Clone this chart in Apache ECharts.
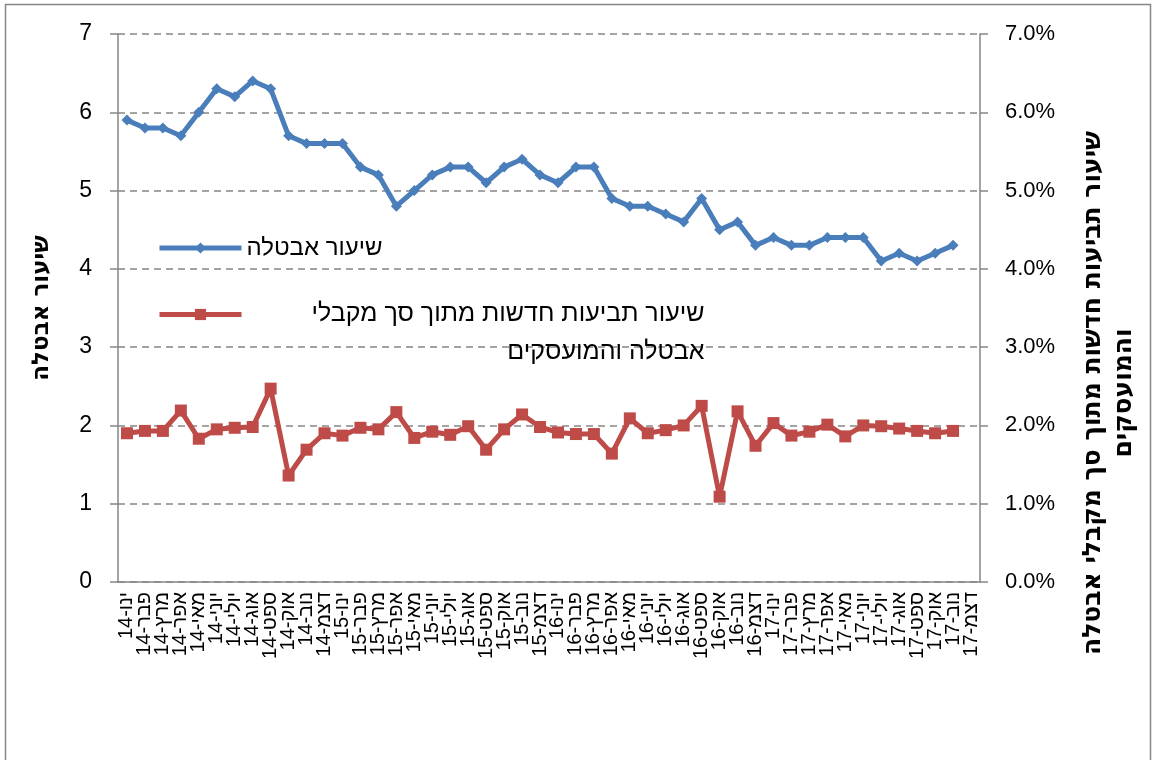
<!DOCTYPE html>
<html>
<head>
<meta charset="utf-8">
<script src="https://cdn.jsdelivr.net/npm/echarts@6/dist/echarts.min.js"></script>
<style>
  html, body { margin: 0; padding: 0; background: #fff; }
  #chart { width: 1157px; height: 760px; }
</style>
</head>
<body>
<div id="chart"></div>
<script>
const months = ['ינו', 'פבר', 'מרץ', 'אפר', 'מאי', 'יוני', 'יולי', 'אוג', 'ספט', 'אוק', 'נוב', 'דצמ']
const years = ['14', '15', '16', '17']

// categories: Jan-14 .. Dec-17
const categories = []
years.forEach(y => months.forEach(m => categories.push(m + '-' + y)))

// unemployment rate (left axis)
const unemployment = [
  5.9, 5.8, 5.8, 5.7, 6.0, 6.3, 6.2, 6.4, 6.3, 5.7, 5.6, 5.6,
  5.6, 5.3, 5.2, 4.8, 5.0, 5.2, 5.3, 5.3, 5.1, 5.3, 5.4, 5.2,
  5.1, 5.3, 5.3, 4.9, 4.8, 4.8, 4.7, 4.6, 4.9, 4.5, 4.6, 4.3,
  4.4, 4.3, 4.3, 4.4, 4.4, 4.4, 4.1, 4.2, 4.1, 4.2, 4.3, null
]

// new claims rate, percent (right axis)
const claims = [
  1.90, 1.93, 1.93, 2.19, 1.83, 1.95, 1.97, 1.98, 2.47, 1.36, 1.69, 1.90,
  1.87, 1.97, 1.95, 2.17, 1.84, 1.92, 1.88, 1.99, 1.69, 1.95, 2.14, 1.98,
  1.91, 1.89, 1.89, 1.64, 2.09, 1.90, 1.94, 2.00, 2.25, 1.09, 2.18, 1.74,
  2.03, 1.87, 1.92, 2.01, 1.86, 2.00, 1.99, 1.96, 1.93, 1.90, 1.93, null
]

const nameUnemp = 'שיעור אבטלה'
const nameClaims = 'שיעור תביעות חדשות מתוך סך מקבלי אבטלה והמועסקים'
const rightTitle = 'שיעור תביעות חדשות מתוך סך מקבלי אבטלה\nוהמועסקים'

const font = '"Liberation Sans", "DejaVu Sans", sans-serif'
const boldFont = '"DejaVu Sans", "Liberation Sans", sans-serif'
const gray = '#868686'
const blue = '#4A7EBB'
const red = '#BE4B48'

let myChart = echarts.init(document.getElementById('chart'))

myChart.setOption({
  animation: false,
  textStyle: { fontFamily: font },
  grid: { left: 118, right: 177, top: 34, bottom: 178, outerBoundsMode: 'none' },
  graphic: [{
    type: 'rect',
    shape: { x: 5.5, y: 4.5, width: 1145, height: 820 },
    style: { fill: null, stroke: gray, lineWidth: 1.5 },
    silent: true
  }],
  legend: [{
    data: [nameUnemp],
    left: 152,
    top: 231,
    itemWidth: 82,
    itemHeight: 14,
    itemGap: 10,
    lineStyle: { width: 5 },
    textStyle: { fontSize: 24, color: '#000' }
  }, {
    data: [nameClaims],
    left: 152,
    top: 297,
    itemWidth: 82,
    itemHeight: 14,
    lineStyle: { width: 5 },
    formatter: () => '{a|שיעור תביעות חדשות מתוך סך מקבלי}\n{a|אבטלה והמועסקים}',
    textStyle: {
      fontSize: 25, color: '#000',
      padding: [38, 0, 0, 0],
      rich: { a: { fontSize: 25, width: 458, align: 'right', lineHeight: 38 } }
    }
  }],
  xAxis: {
    type: 'category',
    data: categories,
    boundaryGap: true,
    axisLine: { lineStyle: { color: gray, width: 1.5 } },
    axisTick: { length: 7, interval: 0, lineStyle: { color: gray, width: 1.5 } },
    axisLabel: { interval: 0, rotate: 90, fontSize: 20, color: '#000', margin: 10 }
  },
  yAxis: [{
    type: 'value',
    min: 0, max: 7, interval: 1,
    name: nameUnemp,
    nameLocation: 'middle',
    nameGap: 64,
    nameRotate: 90,
    nameTextStyle: { fontSize: 23, fontWeight: 'bold', color: '#000', fontFamily: boldFont },
    axisLine: { show: true, lineStyle: { color: gray, width: 1.5 } },
    axisTick: { show: true, length: 8, lineStyle: { color: gray, width: 1.5 } },
    axisLabel: { fontSize: 23, color: '#000', margin: 26 },
    splitLine: { lineStyle: { color: gray, type: [7, 5], width: 1.5 } }
  }, {
    type: 'value',
    min: 0, max: 7, interval: 1,
    position: 'right',
    name: rightTitle,
    nameLocation: 'middle',
    nameGap: 98,
    nameRotate: 90,
    nameTextStyle: { fontSize: 25, fontWeight: 'bold', color: '#000', lineHeight: 31, padding: [0, 170, 0, 0], fontFamily: boldFont },
    axisLine: { show: true, lineStyle: { color: gray, width: 1.5 } },
    axisTick: { show: true, length: 8, lineStyle: { color: gray, width: 1.5 } },
    axisLabel: { fontSize: 22, color: '#000', margin: 25, formatter: v => v.toFixed(1) + '%' },
    splitLine: { show: false }
  }],
  series: [{
    name: nameUnemp,
    type: 'line',
    yAxisIndex: 0,
    data: unemployment,
    symbol: 'diamond',
    symbolSize: 11,
    lineStyle: { color: blue, width: 5 },
    itemStyle: { color: blue },
    z: 3
  }, {
    name: nameClaims,
    type: 'line',
    yAxisIndex: 1,
    data: claims,
    symbol: 'rect',
    symbolSize: 12,
    lineStyle: { color: red, width: 5 },
    itemStyle: { color: red },
    z: 2
  }]
})
</script>
</body>
</html>
